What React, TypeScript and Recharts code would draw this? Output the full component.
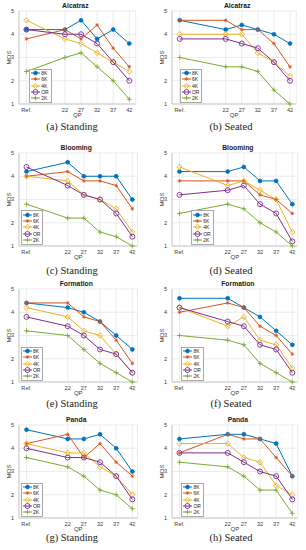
import { LineChart, Line, XAxis, YAxis, CartesianGrid } from "recharts";

type Series = "8K" | "6K" | "4K" | "OR" | "2K";

const SERIES: Series[] = ["8K", "6K", "4K", "OR", "2K"];
const QP = [22, 27, 32, 37, 42];
const Y_TICKS = [1, 2, 3, 4, 5];

const COLORS: Record<Series, string> = {
  "8K": "#0072BD",
  "6K": "#D95319",
  "4K": "#EDB120",
  OR: "#7E2F8E",
  "2K": "#77AC30",
};

// MOS per series: [Ref., 22, 27, 32, 37, 42]
const alcatrazStanding: Record<Series, number[]> = {
  "8K": [4.2, 4.2, 4.6, 3.8, 4.2, 3.6],
  "6K": [3.8, 4.2, 3.8, 4.4, 3.4, 2.6],
  "4K": [4.6, 3.8, 3.6, 3.2, 2.8, 2.4],
  OR: [4.2, 4.0, 4.0, 3.6, 2.8, 2.0],
  "2K": [2.4, 3.0, 3.2, 2.6, 2.0, 1.2],
};
const alcatrazSeated: Record<Series, number[]> = {
  "8K": [4.6, 4.2, 4.4, 4.2, 4.0, 3.6],
  "6K": [4.6, 4.6, 4.2, 4.2, 3.6, 2.6],
  "4K": [4.0, 4.0, 4.0, 3.2, 2.8, 2.2],
  OR: [3.8, 3.8, 3.6, 3.4, 2.8, 2.0],
  "2K": [3.0, 2.6, 2.6, 2.4, 1.6, 1.0],
};
const bloomingStanding: Record<Series, number[]> = {
  "8K": [4.2, 4.6, 4.0, 4.0, 4.0, 3.0],
  "6K": [4.0, 4.2, 3.8, 3.8, 3.6, 2.6],
  "4K": [4.0, 3.8, 3.2, 3.0, 2.6, 1.6],
  OR: [4.4, 3.6, 3.2, 3.0, 2.4, 1.4],
  "2K": [2.8, 2.2, 2.2, 1.6, 1.4, 1.0],
};
const bloomingSeated: Record<Series, number[]> = {
  "8K": [4.2, 4.2, 4.4, 3.8, 3.8, 2.8],
  "6K": [3.8, 3.8, 3.8, 3.2, 3.0, 2.4],
  "4K": [4.4, 3.6, 3.8, 3.4, 3.0, 1.6],
  OR: [3.2, 3.4, 3.6, 2.8, 2.4, 1.2],
  "2K": [2.4, 2.8, 2.6, 2.0, 1.6, 1.0],
};
const formationStanding: Record<Series, number[]> = {
  "8K": [4.4, 4.2, 4.0, 3.6, 3.0, 2.4],
  "6K": [4.4, 4.4, 3.8, 3.6, 2.8, 1.8],
  "4K": [4.2, 3.8, 3.2, 3.0, 2.2, 1.4],
  OR: [3.8, 3.4, 3.0, 2.4, 2.2, 1.4],
  "2K": [3.2, 3.0, 2.4, 1.8, 1.4, 1.0],
};
const formationSeated: Record<Series, number[]> = {
  "8K": [4.6, 4.6, 4.2, 3.8, 3.2, 2.6],
  "6K": [4.0, 4.4, 4.2, 3.4, 3.0, 2.2],
  "4K": [4.2, 3.4, 3.8, 2.8, 2.6, 1.6],
  OR: [4.2, 3.6, 3.4, 2.6, 2.4, 1.4],
  "2K": [3.0, 2.8, 2.6, 1.8, 1.4, 1.0],
};
const pandaStanding: Record<Series, number[]> = {
  "8K": [4.8, 4.4, 4.4, 4.6, 4.0, 3.0],
  "6K": [4.2, 4.6, 3.6, 4.2, 3.4, 2.8],
  "4K": [4.2, 3.8, 3.8, 3.2, 2.8, 2.0],
  OR: [4.0, 3.6, 3.6, 3.4, 2.8, 1.8],
  "2K": [3.6, 3.2, 2.8, 2.2, 2.0, 1.4],
};
const pandaSeated: Record<Series, number[]> = {
  "8K": [4.4, 4.6, 4.6, 4.4, 4.2, 2.8],
  "6K": [3.8, 4.6, 4.4, 4.4, 3.6, 2.8],
  "4K": [4.2, 4.2, 3.6, 3.4, 2.4, 2.0],
  OR: [3.8, 3.8, 3.4, 3.0, 2.8, 1.8],
  "2K": [3.4, 3.2, 2.8, 2.2, 2.2, 1.2],
};

const PLOT_TOPS = [11, 152.7, 289, 425];
const CAPTION_Y = [127, 271, 403.5, 538.3];

const PANELS = [
  { id: "a", title: "Alcatraz", view: "Standing", values: alcatrazStanding, row: 0, col: 0, ref: 10, dmin: 7.7, dmax: 44, plotRight: 135.7, legendLeft: 29 },
  { id: "b", title: "Alcatraz", view: "Seated", values: alcatrazSeated, row: 0, col: 1, ref: 7.7, dmin: 5.3, dmax: 43.96, plotRight: 143.3, legendLeft: 26.7 },
  { id: "c", title: "Blooming", view: "Standing", values: bloomingStanding, row: 1, col: 0, ref: 9.25, dmin: 6.93, dmax: 43.6, plotRight: 137.5, legendLeft: 20.7 },
  { id: "d", title: "Blooming", view: "Seated", values: bloomingSeated, row: 1, col: 1, ref: 7.08, dmin: 4.76, dmax: 43.67, plotRight: 144.7, legendLeft: 38 },
  { id: "e", title: "Formation", view: "Standing", values: formationStanding, row: 2, col: 0, ref: 9.25, dmin: 6.93, dmax: 43.6, plotRight: 137.5, legendLeft: 20.7 },
  { id: "f", title: "Formation", view: "Seated", values: formationSeated, row: 2, col: 1, ref: 7.08, dmin: 4.76, dmax: 43.67, plotRight: 144.7, legendLeft: 28.3 },
  { id: "g", title: "Panda", view: "Standing", values: pandaStanding, row: 3, col: 0, ref: 9.25, dmin: 6.93, dmax: 43.6, plotRight: 137.5, legendLeft: 20.7 },
  { id: "h", title: "Panda", view: "Seated", values: pandaSeated, row: 3, col: 1, ref: 7.08, dmin: 4.76, dmax: 43.67, plotRight: 144.7, legendLeft: 28.3 },
];

type PanelCfg = (typeof PANELS)[number];

const CELL_W = 153;
const PLOT_H = 93;
const AXIS_H = 18;
const MARGIN_TOP = 11;
const CHART_H = MARGIN_TOP + PLOT_H + AXIS_H;
const SANS = "'Liberation Sans', Arial, sans-serif";
const SERIF = "'Liberation Serif', 'DejaVu Serif', serif";
const TICK = "#3a3a3a";
const GRID = "#e4e4e4";
const BOX = "#b8b8b8";

function Marker({ s, cx, cy }: { s: Series; cx: number; cy: number }) {
  const c = COLORS[s];
  if (cx == null || cy == null) return null;
  switch (s) {
    case "8K":
      return <circle cx={cx} cy={cy} r={2} fill={c} stroke={c} strokeWidth={0.6} />;
    case "6K":
      return (
        <g stroke={c} strokeWidth={0.8}>
          <line x1={cx - 1.8} y1={cy} x2={cx + 1.8} y2={cy} />
          <line x1={cx} y1={cy - 1.8} x2={cx} y2={cy + 1.8} />
          <line x1={cx - 1.3} y1={cy - 1.3} x2={cx + 1.3} y2={cy + 1.3} />
          <line x1={cx - 1.3} y1={cy + 1.3} x2={cx + 1.3} y2={cy - 1.3} />
        </g>
      );
    case "4K":
      return (
        <polygon
          points={`${cx},${cy - 2.8} ${cx + 2.6},${cy} ${cx},${cy + 2.8} ${cx - 2.6},${cy}`}
          fill="none"
          stroke={c}
          strokeWidth={0.9}
        />
      );
    case "OR":
      return <circle cx={cx} cy={cy} r={2.5} fill="none" stroke={c} strokeWidth={0.9} />;
    case "2K":
      return (
        <g stroke={c} strokeWidth={0.9}>
          <line x1={cx - 2.4} y1={cy} x2={cx + 2.4} y2={cy} />
          <line x1={cx} y1={cy - 2.4} x2={cx} y2={cy + 2.4} />
        </g>
      );
  }
  return null;
}

function LegendBox({ left, top }: { left: number; top: number }) {
  return (
    <div
      style={{
        position: "absolute",
        left,
        top,
        background: "#fff",
        border: "0.6px solid #a8a8a8",
        padding: "0.5px 2px 0.5px 1px",
        fontFamily: SANS,
        fontSize: 5,
        color: "#262626",
      }}
    >
      {SERIES.map((s) => (
        <div key={s} style={{ display: "flex", alignItems: "center", height: 6.3 }}>
          <svg width={9} height={6} style={{ display: "block" }}>
            <line x1={0} y1={3} x2={9} y2={3} stroke={COLORS[s]} strokeWidth={1} />
            <Marker s={s} cx={4.5} cy={3} />
          </svg>
          <span style={{ marginLeft: 1.2, lineHeight: "6px" }}>{s}</span>
        </div>
      ))}
    </div>
  );
}

function Panel({ p }: { p: PanelCfg }) {
  const xs = [p.ref, ...QP];
  const data = xs.map((x, i) => {
    const row: Record<string, number> = { qp: x };
    SERIES.forEach((s) => {
      row[s] = p.values[s][i];
    });
    return row;
  });
  const plotTop = PLOT_TOPS[p.row];
  const left = p.col * CELL_W;
  const titleCenter = (19 + p.plotRight) / 2 + (p.col === 1 ? 3 : -2);

  return (
    <>
      <div style={{ position: "absolute", left, top: plotTop - MARGIN_TOP, width: CELL_W, height: CHART_H }}>
        <div
          style={{
            position: "absolute",
            left: titleCenter - 40,
            width: 80,
            top: 1,
            textAlign: "center",
            fontFamily: SANS,
            fontWeight: "bold",
            fontSize: 6.8,
            lineHeight: "9px",
            color: "#1a1a1a",
          }}
        >
          {p.title}
        </div>
        <LineChart
          width={CELL_W}
          height={CHART_H}
          data={data}
          margin={{ top: MARGIN_TOP, right: CELL_W - p.plotRight, bottom: 0, left: 0 }}
          style={{ fontFamily: SANS }}
        >
          <CartesianGrid stroke={GRID} strokeWidth={0.7} />
          <XAxis
            type="number"
            dataKey="qp"
            domain={[p.dmin, p.dmax]}
            ticks={xs}
            interval={0}
            allowDataOverflow
            tickFormatter={(v: number) => (v === p.ref ? "Ref." : String(v))}
            height={AXIS_H}
            tickSize={2.4}
            tickLine={false}
            axisLine={{ stroke: BOX, strokeWidth: 0.7 }}
            tick={{ fontSize: 5.6, fill: TICK }}
            label={{ value: "QP", position: "insideBottom", offset: 4.7, fontSize: 6, fill: TICK }}
          />
          <YAxis
            domain={[1, 5]}
            ticks={Y_TICKS}
            width={19}
            tickSize={3}
            tickLine={false}
            axisLine={{ stroke: BOX, strokeWidth: 0.7 }}
            tick={{ fontSize: 5.6, fill: TICK }}
            label={{ value: "MOS", angle: -90, position: "center", dx: -1, fontSize: 6.2, fill: TICK }}
          />
          <YAxis
            yAxisId="box"
            orientation="right"
            width={0}
            tick={false}
            tickLine={false}
            axisLine={{ stroke: BOX, strokeWidth: 0.7 }}
          />
          {SERIES.map((s) => (
            <Line
              key={s}
              dataKey={s}
              stroke={COLORS[s]}
              strokeWidth={1}
              isAnimationActive={false}
              activeDot={false}
              dot={(props: any) => <Marker key={`${s}-${props.index}`} s={s} cx={props.cx} cy={props.cy} />}
            />
          ))}
        </LineChart>
        <LegendBox left={p.legendLeft} top={MARGIN_TOP + 57.5} />
      </div>
      <div
        style={{
          position: "absolute",
          left: left + (p.col === 0 ? 72 : 78) - 60,
          width: 120,
          top: CAPTION_Y[p.row] - 7,
          height: 14,
          lineHeight: "14px",
          textAlign: "center",
          fontFamily: SERIF,
          fontSize: 10.5,
          color: "#222",
        }}
      >
        ({p.id}) {p.view}
      </div>
    </>
  );
}

export default function App() {
  return (
    <div style={{ position: "absolute", left: 0, top: 0, width: 306, height: 550, background: "#fff", overflow: "hidden" }}>
      {PANELS.map((p) => (
        <Panel key={p.id} p={p} />
      ))}
    </div>
  );
}
